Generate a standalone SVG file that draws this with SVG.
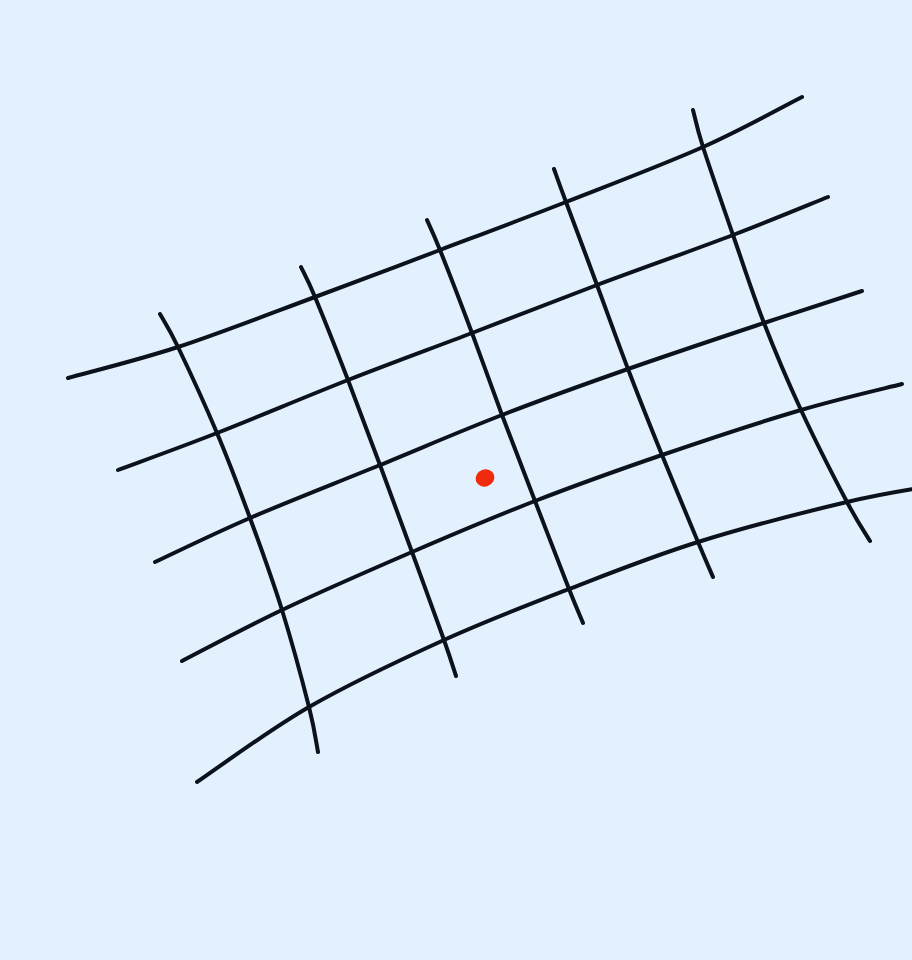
<svg xmlns="http://www.w3.org/2000/svg" width="912" height="960" viewBox="0 0 912 960">
<style>
.g{fill:none;stroke:#0b121c;stroke-width:4;stroke-linecap:round;stroke-linejoin:round}
</style>
<rect width="912" height="960" fill="#e3f0fd"/>
<g id="grid">
<path class="g" d="M68,378 C86.3,372.8 136.8,360.5 178,347 C219.2,333.5 271.3,313.2 315,297 C358.7,280.8 398.2,265.8 440,250 C481.8,234.2 522.2,219.2 566,202 C609.8,184.8 663.7,164.5 703,147 C742.3,129.5 785.5,105.3 802,97"/>
<path class="g" d="M118,470 C134.5,463.8 178.7,448 217,433 C255.3,418 305.5,396.7 348,380 C390.5,363.3 430.5,348.8 472,333 C513.5,317.2 553.5,301.3 597,285 C640.5,268.7 694.5,249.7 733,235 C771.5,220.3 812.2,203.3 828,197"/>
<path class="g" d="M155,562 C170.8,554.7 212.5,534.2 250,518 C287.5,501.8 338,482.2 380,465 C422,447.8 460.7,431 502,415 C543.3,399 584.3,384.3 628,369 C671.7,353.7 725,336 764,323 C803,310 845.7,296.3 862,291"/>
<path class="g" d="M182,661 C198.7,652.5 243.7,628.2 282,610 C320.3,591.8 369.8,570.2 412,552 C454.2,533.8 493.3,517.2 535,501 C576.7,484.8 617.7,470.2 662,455 C706.3,439.8 761,421.8 801,410 C841,398.2 885.2,388.3 902,384"/>
<path class="g" d="M197,782 C215.7,769.5 267.8,730.7 309,707 C350.2,683.3 400.7,659.7 444,640 C487.3,620.3 526.7,605.3 569,589 C611.3,572.7 651.7,556.5 698,542 C744.3,527.5 809.2,511 847,502 C884.8,493 912,489.5 925,487"/>
<path class="g" d="M160,314 C163,319.5 168.5,327.2 178,347 C187.5,366.8 205,404.5 217,433 C229,461.5 239.2,488.5 250,518 C260.8,547.5 272.2,578.5 282,610 C291.8,641.5 303,683.3 309,707 C315,730.7 316.5,744.5 318,752"/>
<path class="g" d="M301,267 C303.3,272 307.2,278.2 315,297 C322.8,315.8 337.2,352 348,380 C358.8,408 369.3,436.3 380,465 C390.7,493.7 401.3,522.8 412,552 C422.7,581.2 436.7,619.3 444,640 C451.3,660.7 454,670 456,676"/>
<path class="g" d="M427,220 C429.2,225 432.5,231.2 440,250 C447.5,268.8 461.7,305.5 472,333 C482.3,360.5 491.5,387 502,415 C512.5,443 523.8,472 535,501 C546.2,530 561,568.7 569,589 C577,609.3 580.7,617.3 583,623"/>
<path class="g" d="M554,169 C556,174.5 558.8,182.7 566,202 C573.2,221.3 586.7,257.2 597,285 C607.3,312.8 617.2,340.7 628,369 C638.8,397.3 650.3,426.2 662,455 C673.7,483.8 689.5,521.7 698,542 C706.5,562.3 710.5,571.2 713,577"/>
<path class="g" d="M693,110 C694.7,116.2 696.3,126.2 703,147 C709.7,167.8 722.8,205.7 733,235 C743.2,264.3 752.7,293.8 764,323 C775.3,352.2 787.2,380.2 801,410 C814.8,439.8 835.5,480.2 847,502 C858.5,523.8 866.2,534.5 870,541"/>
</g>
<ellipse id="point" cx="485" cy="478" rx="9.5" ry="8.5" transform="rotate(-20 485 478)" fill="#f02a0c"/>
</svg>
